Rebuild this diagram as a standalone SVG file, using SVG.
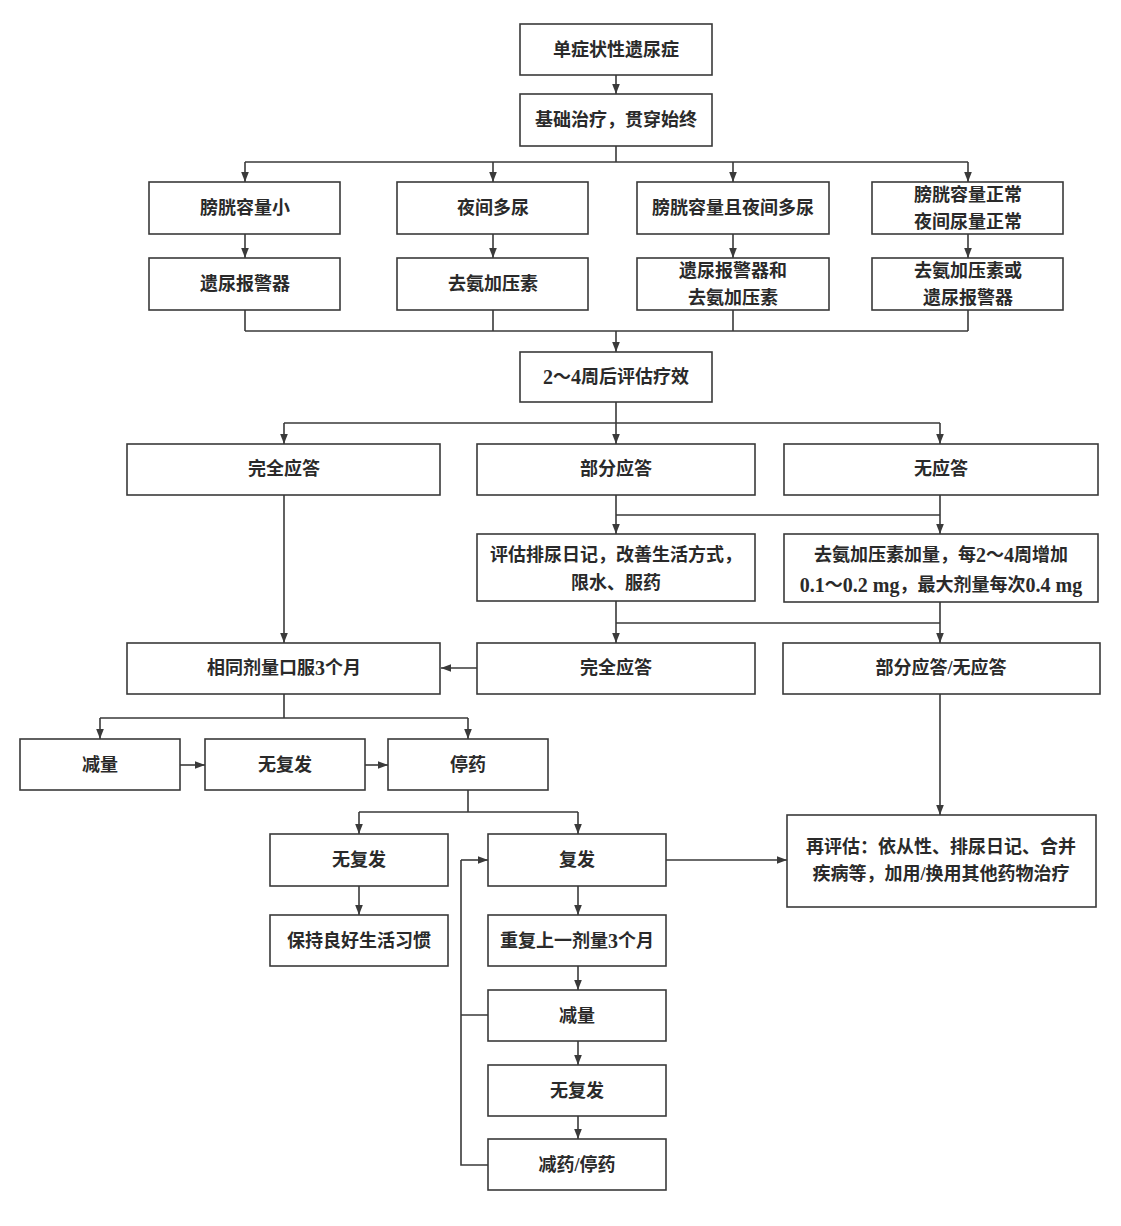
<svg xmlns="http://www.w3.org/2000/svg" width="1121" height="1226" viewBox="0 0 1121 1226">
<style>
.b{fill:#fff;stroke:#3a3a3a;stroke-width:1.6}
.t{font-family:"Liberation Serif","Noto Sans CJK SC",serif;font-size:18px;font-weight:700;fill:#2a2a2a;text-anchor:middle;dominant-baseline:central}
.l{font-size:20px;font-weight:700}
.c{fill:none;stroke:#3a3a3a;stroke-width:1.6}
.a{marker-end:url(#ah)}
</style>
<defs>
<marker id="ah" markerUnits="userSpaceOnUse" markerWidth="10" markerHeight="10" viewBox="0 0 10 10" refX="10" refY="5" orient="auto">
<path d="M0,1.2 L10,5 L0,8.8 Z" fill="#3a3a3a"/>
</marker>
</defs>
<rect width="1121" height="1226" fill="#fff"/>
<g id="connectors">
<path class="c a" d="M616,75 V94"/>
<path class="c" d="M616,146 V162 M245,162 H968"/>
<path class="c a" d="M245,162 V182"/>
<path class="c a" d="M493,162 V182"/>
<path class="c a" d="M733,162 V182"/>
<path class="c a" d="M968,162 V182"/>
<path class="c a" d="M245,234 V258"/>
<path class="c a" d="M493,234 V258"/>
<path class="c a" d="M733,234 V258"/>
<path class="c a" d="M968,234 V258"/>
<path class="c" d="M245,310 V331 M493,310 V331 M733,310 V331 M968,310 V331 M245,331 H968"/>
<path class="c a" d="M616,331 V352"/>
<path class="c" d="M616,402 V423 M284,423 H940"/>
<path class="c a" d="M284,423 V444"/>
<path class="c a" d="M616,423 V444"/>
<path class="c a" d="M940,423 V444"/>
<path class="c" d="M616,495 V515 M616,515 H940 M940,495 V515"/>
<path class="c a" d="M616,515 V534"/>
<path class="c a" d="M940,515 V534"/>
<path class="c" d="M616,601 V623 M616,623 H940 M940,602 V623"/>
<path class="c a" d="M616,623 V643"/>
<path class="c a" d="M940,623 V643"/>
<path class="c a" d="M284,495 V643"/>
<path class="c a" d="M477,668 H441"/>
<path class="c a" d="M940,694 V815"/>
<path class="c" d="M284,694 V718 M100,718 H468"/>
<path class="c a" d="M100,718 V739"/>
<path class="c a" d="M468,718 V739"/>
<path class="c a" d="M180,765 H205"/>
<path class="c a" d="M365,765 H388"/>
<path class="c" d="M468,790 V812 M359,812 H578"/>
<path class="c a" d="M359,812 V834"/>
<path class="c a" d="M578,812 V834"/>
<path class="c a" d="M666,860 H787"/>
<path class="c a" d="M359,886 V915"/>
<path class="c a" d="M578,886 V915"/>
<path class="c a" d="M578,966 V990"/>
<path class="c a" d="M578,1041 V1065"/>
<path class="c a" d="M578,1116 V1139"/>
<path class="c" d="M488,1015 H461 M488,1165 H461 V860"/>
<path class="c a" d="M461,860 H488"/>
</g>
<g id="n1"><rect class="b" x="520" y="24" width="192" height="51"/><text class="t" x="616" y="50">单症状性遗尿症</text></g>
<g id="n2"><rect class="b" x="520" y="94" width="192" height="52"/><text class="t" x="616" y="120">基础治疗，贯穿始终</text></g>
<g id="n3"><rect class="b" x="149" y="182" width="191" height="52"/><text class="t" x="245" y="208">膀胱容量小</text></g>
<g id="n4"><rect class="b" x="397" y="182" width="191" height="52"/><text class="t" x="493" y="208">夜间多尿</text></g>
<g id="n5"><rect class="b" x="637" y="182" width="192" height="52"/><text class="t" x="733" y="208">膀胱容量且夜间多尿</text></g>
<g id="n6"><rect class="b" x="872" y="182" width="191" height="52"/><text class="t" x="968" y="195">膀胱容量正常</text><text class="t" x="968" y="222">夜间尿量正常</text></g>
<g id="n7"><rect class="b" x="149" y="258" width="191" height="52"/><text class="t" x="245" y="284">遗尿报警器</text></g>
<g id="n8"><rect class="b" x="397" y="258" width="191" height="52"/><text class="t" x="493" y="284">去氨加压素</text></g>
<g id="n9"><rect class="b" x="637" y="258" width="192" height="52"/><text class="t" x="733" y="271">遗尿报警器和</text><text class="t" x="733" y="298">去氨加压素</text></g>
<g id="n10"><rect class="b" x="872" y="258" width="191" height="52"/><text class="t" x="968" y="271">去氨加压素或</text><text class="t" x="968" y="298">遗尿报警器</text></g>
<g id="n11"><rect class="b" x="520" y="352" width="192" height="50"/><text class="t" x="616" y="377"><tspan class="l">2</tspan>～<tspan class="l">4</tspan>周后评估疗效</text></g>
<g id="n12"><rect class="b" x="127" y="444" width="313" height="51"/><text class="t" x="284" y="469">完全应答</text></g>
<g id="n13"><rect class="b" x="477" y="444" width="278" height="51"/><text class="t" x="616" y="469">部分应答</text></g>
<g id="n14"><rect class="b" x="784" y="444" width="314" height="51"/><text class="t" x="941" y="469">无应答</text></g>
<g id="n15"><rect class="b" x="477" y="534" width="278" height="67"/><text class="t" x="616" y="555">评估排尿日记，改善生活方式，</text><text class="t" x="616" y="583">限水、服药</text></g>
<g id="n16"><rect class="b" x="784" y="534" width="314" height="68"/><text class="t" x="941" y="555">去氨加压素加量，每<tspan class="l">2</tspan>～<tspan class="l">4</tspan>周增加</text><text class="t" x="941" y="585"><tspan class="l">0.1</tspan>～<tspan class="l">0.2 mg</tspan>，最大剂量每次<tspan class="l">0.4 mg</tspan></text></g>
<g id="n17"><rect class="b" x="127" y="643" width="313" height="51"/><text class="t" x="284" y="668">相同剂量口服<tspan class="l">3</tspan>个月</text></g>
<g id="n18"><rect class="b" x="477" y="643" width="278" height="51"/><text class="t" x="616" y="668">完全应答</text></g>
<g id="n19"><rect class="b" x="783" y="643" width="317" height="51"/><text class="t" x="941" y="668">部分应答/无应答</text></g>
<g id="n20"><rect class="b" x="20" y="739" width="160" height="51"/><text class="t" x="100" y="765">减量</text></g>
<g id="n21"><rect class="b" x="205" y="739" width="160" height="51"/><text class="t" x="285" y="765">无复发</text></g>
<g id="n22"><rect class="b" x="388" y="739" width="160" height="51"/><text class="t" x="468" y="765">停药</text></g>
<g id="n23"><rect class="b" x="270" y="834" width="178" height="52"/><text class="t" x="359" y="860">无复发</text></g>
<g id="n24"><rect class="b" x="488" y="834" width="178" height="52"/><text class="t" x="577" y="860">复发</text></g>
<g id="n25"><rect class="b" x="787" y="815" width="309" height="92"/><text class="t" x="941" y="847">再评估：依从性、排尿日记、合并</text><text class="t" x="941" y="874">疾病等，加用/换用其他药物治疗</text></g>
<g id="n26"><rect class="b" x="270" y="915" width="178" height="51"/><text class="t" x="359" y="941">保持良好生活习惯</text></g>
<g id="n27"><rect class="b" x="488" y="915" width="178" height="51"/><text class="t" x="577" y="941">重复上一剂量<tspan class="l">3</tspan>个月</text></g>
<g id="n28"><rect class="b" x="488" y="990" width="178" height="51"/><text class="t" x="577" y="1016">减量</text></g>
<g id="n29"><rect class="b" x="488" y="1065" width="178" height="51"/><text class="t" x="577" y="1091">无复发</text></g>
<g id="n30"><rect class="b" x="488" y="1139" width="178" height="51"/><text class="t" x="577" y="1165">减药/停药</text></g>
</svg>
